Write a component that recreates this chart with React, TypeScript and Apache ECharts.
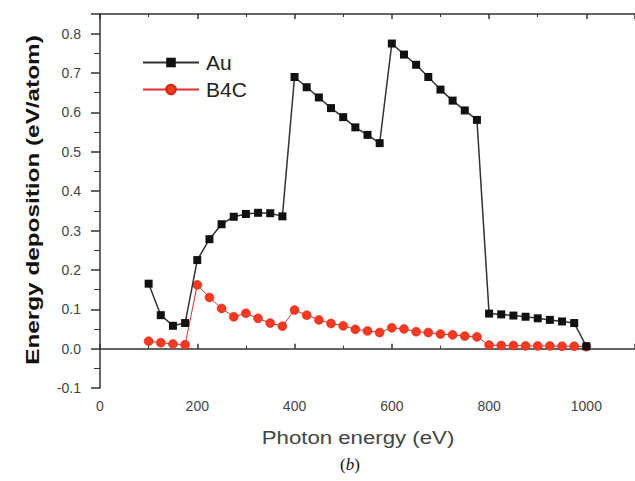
import React, { useEffect, useRef } from "react";
import * as echarts from "echarts";

const photonEnergy = [100, 125, 150, 175, 200, 225, 250, 275, 300, 325, 350, 375, 400, 425, 450, 475, 500, 525, 550, 575, 600, 625, 650, 675, 700, 725, 750, 775, 800, 825, 850, 875, 900, 925, 950, 975, 1000];
const auValues = [0.165, 0.085, 0.058, 0.065, 0.225, 0.278, 0.316, 0.335, 0.342, 0.345, 0.344, 0.336, 0.69, 0.664, 0.638, 0.611, 0.588, 0.562, 0.543, 0.522, 0.775, 0.747, 0.721, 0.69, 0.658, 0.63, 0.605, 0.581, 0.089, 0.087, 0.084, 0.081, 0.077, 0.073, 0.069, 0.065, 0.006];
const b4cValues = [0.019, 0.015, 0.012, 0.01, 0.162, 0.13, 0.102, 0.081, 0.09, 0.077, 0.065, 0.057, 0.098, 0.085, 0.073, 0.064, 0.058, 0.049, 0.045, 0.041, 0.053, 0.05, 0.043, 0.041, 0.037, 0.035, 0.032, 0.03, 0.009, 0.008, 0.008, 0.007, 0.007, 0.007, 0.006, 0.006, 0.005];
const seriesNames = ["Au", "B4C"];
const xTitle = "Photon energy (eV)";
const yTitle = "Energy deposition (eV/atom)";
const caption = "b";

export default function App() {
  const ref = useRef<HTMLDivElement>(null);
  useEffect(() => {
    if (!ref.current) return;
    const chart = echarts.init(ref.current, undefined, { renderer: "svg" });
    const axisColor = "#333";
    const labelStyle = { color: "#444", fontFamily: "Liberation Sans, Arial, sans-serif", fontSize: 14 };
    chart.setOption({
      animation: false,
      backgroundColor: "#fff",
      grid: { left: 100, top: 14, width: 544.5, height: 374, containLabel: false },
      legend: {
        orient: "vertical",
        left: 137,
        top: 47,
        itemWidth: 56,
        itemHeight: 12,
        itemGap: 6,
        textStyle: { color: "#222", fontSize: 21, fontFamily: "Liberation Sans, Arial, sans-serif", padding: [0, 0, 0, 2] },
        data: seriesNames,
      },
      xAxis: [
        {
          type: "value",
          min: 0,
          max: 1100,
          interval: 200,
          position: "bottom",
          splitLine: { show: false },
          axisLine: { lineStyle: { color: axisColor, width: 1.5 } },
          axisTick: { inside: true, length: 5, lineStyle: { color: axisColor, width: 1.5 } },
          minorTick: { show: true, splitNumber: 2, length: 3, lineStyle: { color: axisColor } },
          axisLabel: { ...labelStyle, margin: 11, showMaxLabel: false, formatter: (v: number) => (v > 1000 ? "" : String(v)) },
        },
        {
          type: "value",
          min: 0,
          max: 1100,
          interval: 200,
          position: "top",
          splitLine: { show: false },
          axisLine: { lineStyle: { color: axisColor, width: 1.5 } },
          axisTick: { inside: true, length: 5, lineStyle: { color: axisColor, width: 1.5 } },
          minorTick: { show: true, splitNumber: 2, length: 3, lineStyle: { color: axisColor } },
          axisLabel: { show: false },
        },
      ],
      yAxis: {
        type: "value",
        min: -0.1,
        max: 0.85,
        interval: 0.1,
        splitLine: { show: false },
        axisLine: { show: true, lineStyle: { color: axisColor, width: 1.5 } },
        axisTick: { show: true, inside: false, length: 9, lineStyle: { color: axisColor, width: 1.5 } },
        minorTick: { show: true, splitNumber: 2, length: 6, lineStyle: { color: axisColor } },
        axisLabel: {
          ...labelStyle,
          margin: 19,
          showMaxLabel: false,
          formatter: (v: number) => (v > 0.81 ? "" : (Math.abs(v) < 1e-9 ? 0 : v).toFixed(1)),
        },
      },
      graphic: [
        {
          type: "text",
          x: 32,
          y: 200,
          rotation: Math.PI / 2,
          scaleX: 1.28,
          style: {
            text: yTitle,
            fill: "#111",
            font: "bold 19px 'Liberation Sans', Arial, sans-serif",
            align: "center",
            verticalAlign: "middle",
          },
        },
        {
          type: "text",
          x: 358,
          y: 437,
          scaleX: 1.17,
          style: {
            text: xTitle,
            fill: "#444",
            font: "19px 'Liberation Sans', Arial, sans-serif",
            align: "center",
            verticalAlign: "middle",
          },
        },
        {
          type: "text",
          x: 350,
          y: 464,
          style: {
            text: "{p|(}{i|" + caption + "}{p|)}",
            fill: "#111",
            align: "center",
            verticalAlign: "middle",
            rich: {
              p: { font: "17px 'Liberation Serif', 'Times New Roman', serif", fill: "#111" },
              i: { font: "italic 17px 'Liberation Serif', 'Times New Roman', serif", fill: "#111" },
            },
          },
        },
      ],
      series: [
        {
          name: seriesNames[0],
          type: "line",
          data: photonEnergy.map((x, i) => [x, auValues[i]]),
          symbol: "rect",
          symbolSize: 8,
          itemStyle: { color: "#111" },
          lineStyle: { color: "#333", width: 1.5 },
          z: 3,
        },
        {
          name: seriesNames[1],
          type: "line",
          data: photonEnergy.map((x, i) => [x, b4cValues[i]]),
          symbol: "circle",
          symbolSize: 9,
          itemStyle: { color: "#f23a22", borderColor: "#e02010", borderWidth: 0.5 },
          lineStyle: { color: "#e0302a", width: 1 },
          z: 2,
        },
      ],
    });
    return () => chart.dispose();
  }, []);
  return <div ref={ref} style={{ position: "fixed", left: 0, top: 0, width: 635, height: 481 }} />;
}
